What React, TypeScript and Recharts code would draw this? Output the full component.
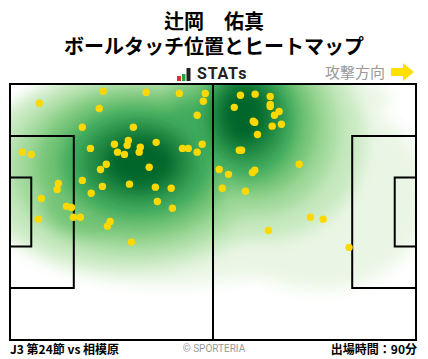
import React from "react";
import {
  ScatterChart,
  Scatter,
  XAxis,
  YAxis,
  ReferenceArea,
  ReferenceLine,
} from "recharts";

// touch positions in metres (x: own goal -> attack, y: from top touchline)
const touchX = [
  7.6, 24.1, 35.2, 43.8, 50.5, 50.0, 23.1, 48.4, 18.7, 31.9,
  27.0, 30.6, 30.3, 33.7, 37.8, 20.8, 27.8, 29.6, 33.4, 44.6,
  46.1, 49.7, 48.4, 3.2, 5.5, 24.9, 23.4, 36.0, 18.7, 12.5,
  12.2, 23.9, 30.9, 37.6, 41.7, 8.1, 21.0, 38.1, 42.0, 14.6,
  15.9, 7.3, 16.4, 18.2, 25.9, 25.2, 31.4,
  59.6, 63.4, 67.3, 58.0, 67.3, 67.3, 69.6, 68.4, 62.9, 63.3,
  70.2, 67.8, 64.0, 59.3, 59.9, 54.1, 56.5, 62.7, 63.3, 74.8,
  54.9, 60.9, 77.7, 81.0, 66.8, 87.7,
];
const touchY = [
  5.1, 1.9, 2.2, 2.5, 2.5, 4.6, 6.5, 8.3, 11.5, 11.5,
  16.0, 15.0, 16.3, 16.8, 15.5, 17.1, 18.1, 18.7, 18.1, 17.1,
  17.1, 16.0, 18.1, 18.1, 18.7, 21.3, 22.7, 22.1, 25.6, 26.4,
  28.0, 27.2, 26.6, 27.4, 27.7, 30.4, 29.0, 31.2, 33.0, 32.5,
  32.8, 35.9, 35.4, 35.4, 36.5, 37.8, 42.0,
  3.0, 2.7, 3.3, 6.2, 5.4, 6.0, 7.3, 8.3, 9.9, 10.2,
  10.7, 11.2, 13.4, 17.6, 17.6, 22.7, 24.0, 23.5, 22.9, 21.3,
  27.7, 28.5, 35.4, 35.9, 38.9, 43.4,
];

// heat zones (centre, radii in metres, level), light to dark
const heatX = [41.4, 80.2, 56.9, 31.0, 65.9, 32.3, 64.1, 47.8, 32.3, 62.6, 47.8, 19.4, 33.1, 61.5, 47.1, 33.1, 61.0, 33.6, 60.5];
const heatY = [25.5, 29.5, 4.2, 22.8, 14.9, 22.3, 12.2, 9.6, 21.5, 10.9, 10.9, 32.1, 21.0, 10.1, 12.2, 20.7, 9.0, 20.7, 8.2];
const heatRx = [51.7, 28.4, 41.4, 38.8, 25.9, 32.3, 20.7, 12.9, 25.9, 16.8, 9.8, 10.3, 20.2, 12.9, 7.2, 14.5, 9.8, 9.3, 6.2];
const heatRy = [27.9, 25.2, 10.6, 26.6, 26.6, 22.6, 22.6, 12.0, 19.1, 18.6, 11.2, 7.4, 14.9, 15.4, 8.0, 10.6, 11.7, 6.9, 8.0];
const heatLevel = [0, 0, 0, 1, 1, 2, 2, 2, 3, 3, 3, 3, 4, 4, 4, 5, 5, 6, 6];
const heatColors = ["#eaf6e5", "#c7e9c0", "#a1d99b", "#74c476", "#41ab5d", "#238b45", "#00662b"];

const touches = touchX.map((x, i) => ({ x, y: touchY[i] }));
const heat = heatX.map((x, i) => ({
  x,
  y: heatY[i],
  rx: heatRx[i],
  ry: heatRy[i],
  level: heatLevel[i],
}));

const W = 428;
const H = 359;
const margin = { top: 84, left: 10, right: 12, bottom: 19 };
const plotW = W - margin.left - margin.right;
const plotH = H - margin.top - margin.bottom;
const pxX = plotW / 105;
const pxY = plotH / 68;

const font = '"Noto Sans CJK JP", "Noto Sans", sans-serif';

const HeatShape = (props: any) => {
  const { cx, cy, payload } = props;
  return (
    <g clipPath="url(#pitchClip)">
      <ellipse
        cx={cx}
        cy={cy}
        rx={payload.rx * pxX}
        ry={payload.ry * pxY}
        fill={heatColors[payload.level]}
        filter="url(#heatBlur)"
      />
    </g>
  );
};

const DotShape = (props: any) => (
  <circle cx={props.cx} cy={props.cy} r={3.7} fill="#ffd800" />
);

const lineProps = { fill: "none", stroke: "#000", strokeWidth: 2, fillOpacity: 0 };

export default function App() {
  return (
    <div
      style={{
        position: "absolute",
        left: 0,
        top: 0,
        width: W,
        height: H,
        background: "#fff",
        fontFamily: font,
      }}
    >
      <div style={{ position: "absolute", top: 12, width: W, textAlign: "center", fontSize: 20, fontWeight: 700, lineHeight: "18px" }}>
        辻岡　佑真
      </div>
      <div style={{ position: "absolute", top: 37, width: W, textAlign: "center", fontSize: 20, fontWeight: 700, lineHeight: "18px" }}>
        ボールタッチ位置とヒートマップ
      </div>
      <svg style={{ position: "absolute", left: 176, top: 65 }} width={16} height={16}>
        <rect x={1} y={11} width={4} height={5} fill="#e0322d" />
        <rect x={6} y={9} width={3.5} height={7} fill="#22a83a" />
        <rect x={10.5} y={3} width={4} height={13} fill="#222" />
      </svg>
      <div style={{ position: "absolute", left: 197, top: 64, fontSize: 16, fontWeight: 700, fontFamily: "Roboto, sans-serif", letterSpacing: 0.8, color: "#222", lineHeight: "20px" }}>
        STATs
      </div>
      <div style={{ position: "absolute", left: 325, top: 62, fontSize: 15, color: "#999", lineHeight: "20px" }}>
        攻撃方向
      </div>
      <svg style={{ position: "absolute", left: 390, top: 62 }} width={26} height={20}>
        <polygon points="1,6 13,6 13,1 24,10 13,19 13,14 1,14" fill="#ffe000" />
      </svg>

      <div style={{ position: "absolute", left: 0, top: 0 }}>
        <ScatterChart width={W} height={H} margin={margin}>
          <defs>
            <clipPath id="pitchClip">
              <rect x={margin.left} y={margin.top} width={plotW} height={plotH} />
            </clipPath>
            <filter id="heatBlur" x="-100%" y="-100%" width="300%" height="300%">
              <feGaussianBlur stdDeviation={8} />
            </filter>
          </defs>
          <XAxis type="number" dataKey="x" domain={[0, 105]} hide allowDataOverflow />
          <YAxis type="number" dataKey="y" domain={[0, 68]} reversed hide allowDataOverflow />
          <Scatter data={heat} shape={HeatShape} isAnimationActive={false} zIndex={50} />
          <ReferenceArea x1={0} x2={105} y1={0} y2={68} {...lineProps} zIndex={300} />
          <ReferenceLine x={52.5} stroke="#000" strokeWidth={2} zIndex={300} />
          <ReferenceArea x1={0} x2={16.5} y1={13.84} y2={54.16} {...lineProps} zIndex={300} />
          <ReferenceArea x1={0} x2={5.5} y1={24.84} y2={43.16} {...lineProps} zIndex={300} />
          <ReferenceArea x1={88.5} x2={105} y1={13.84} y2={54.16} {...lineProps} zIndex={300} />
          <ReferenceArea x1={99.5} x2={105} y1={24.84} y2={43.16} {...lineProps} zIndex={300} />
          <Scatter data={touches} shape={DotShape} isAnimationActive={false} zIndex={700} />
        </ScatterChart>
      </div>

      <div style={{ position: "absolute", left: 10, top: 341, fontSize: 12, fontWeight: 700, lineHeight: "16px" }}>
        J3 第24節 vs 相模原
      </div>
      <div style={{ position: "absolute", top: 342, width: W, textAlign: "center", fontSize: 10, color: "#999", lineHeight: "14px", fontFamily: "Roboto, sans-serif" }}>
        © SPORTERIA
      </div>
      <div style={{ position: "absolute", right: 11, top: 341, fontSize: 12, fontWeight: 700, lineHeight: "16px" }}>
        出場時間：90分
      </div>
    </div>
  );
}
